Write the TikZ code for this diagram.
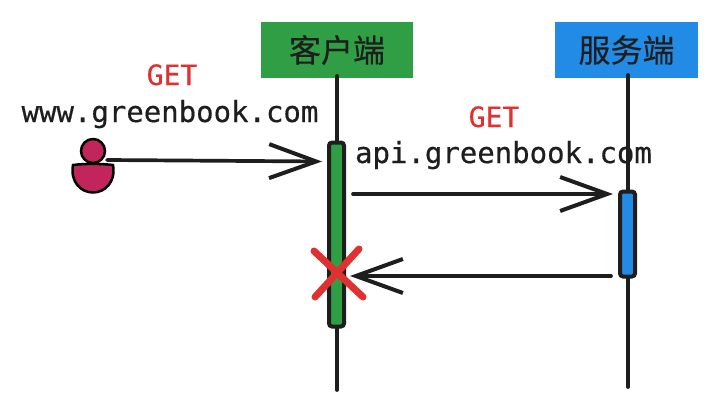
\documentclass[tikz,border=0pt]{standalone}
\usepackage{fontspec}
\usetikzlibrary{arrows.meta}
\newfontfamily\cjkfont[FakeBold=0.25]{Noto Sans CJK SC}
\newfontfamily\monofont[FakeBold=0.5]{DejaVu Sans Mono}
\newfontfamily\getfont[FakeBold=0.5]{DejaVu Sans Mono}
\definecolor{inkc}{HTML}{1E1E1E}
\definecolor{greenc}{HTML}{2F9E44}
\definecolor{bluec}{HTML}{228BE6}
\definecolor{redc}{HTML}{E03131}
\definecolor{pinkc}{HTML}{C2255C}
\tikzset{
  headbox/.style={inner sep=0pt,text=inkc,font=\cjkfont\fontsize{32}{32}\selectfont,minimum height=56pt},
  lifeline/.style={draw=inkc,line width=3.7pt,line cap=round},
  activebar/.style={draw=inkc,line width=4pt,rounded corners=3pt,inner sep=0pt,minimum width=15pt},
  message/.style={draw=inkc,line width=3.7pt,line cap=round,-{Straight Barb[length=47pt,width=34pt,line width=4pt]}},
  urltext/.style={anchor=base,inner sep=0pt,text=inkc,font=\monofont\fontsize{29}{29}\selectfont},
  gettext/.style={anchor=base,inner sep=0pt,text=redc,font=\getfont\fontsize{28}{28}\selectfont},
  crossmark/.style={draw=redc,line width=7pt,line cap=round},
  persona/.style={draw=black,line width=2.5pt,fill=pinkc}
}
\begin{document}
\begin{tikzpicture}[x=1pt,y=-1pt]
\useasboundingbox (0,0) rectangle (719,409);
\fill[white] (0,0) rectangle (719,409);
% header boxes
\node[headbox,fill=greenc,minimum width=152pt] (client) at (337,50) {客户端};
\node[headbox,fill=bluec,minimum width=143pt] (server) at (626.5,50) {服务端};
% lifeline ends
\coordinate (ctop) at (337,76);
\coordinate (cend) at (337,390);
\coordinate (stop) at (628,75);
\coordinate (send) at (628,387);
\draw[lifeline] (ctop) -- (cend);
\draw[lifeline] (stop) -- (send);
% activation bars
\node[activebar,fill=greenc,minimum height=184pt] (cbar) at (336.5,234.5) {};
\node[activebar,fill=bluec,minimum height=85pt] (sbar) at (627.5,234) {};
% person
\node[persona,circle,minimum size=24pt,inner sep=0pt] (head) at (93,151) {};
\draw[persona] (73,165) .. controls (85,163.5) and (100,163.5) .. (113,165) .. controls (116,182) and (105,192.5) .. (93,192.5) .. controls (81,192.5) and (70,182) .. (73,165) -- cycle;
% messages
\coordinate (m1s) at (107,160);
\coordinate (m1e) at (322,161.5);
\coordinate (m2s) at (353,194);
\coordinate (m2e) at (613,194);
\coordinate (m3s) at (611,276);
\coordinate (m3e) at (350,276);
\draw[message] (m1s) -- (m1e);
\draw[message] (m2s) -- (m2e);
\draw[message] (m3s) -- (m3e);
% cross
\coordinate (xa) at (314,251);
\coordinate (xb) at (363,297);
\coordinate (xc) at (359,249);
\coordinate (xd) at (315,297);
\draw[crossmark] (xa) -- (xb);
\draw[crossmark] (xc) -- (xd);
% labels
\node[gettext] (get1) at (172,85) {GET};
\node[urltext] (url1) at (170,122) {www.greenbook.com};
\node[gettext] (get2) at (494,127) {GET};
\node[urltext] (url2) at (503.5,163) {api.greenbook.com};
\end{tikzpicture}
\end{document}
